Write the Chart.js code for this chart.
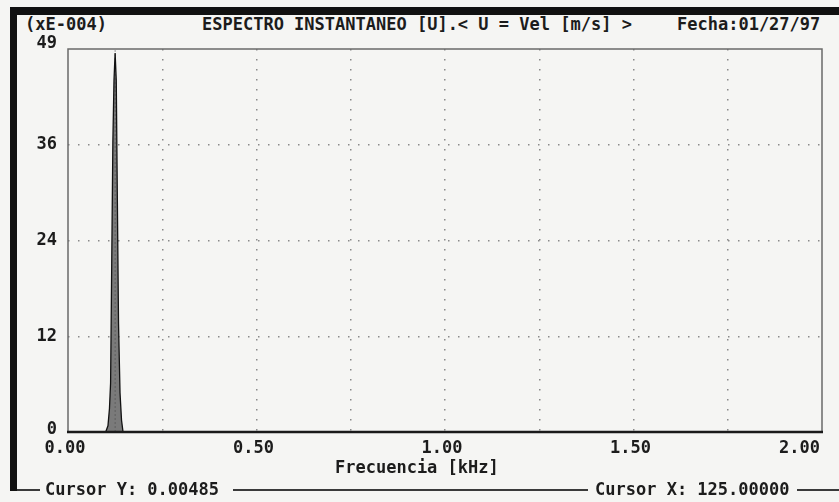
<!DOCTYPE html>
<html>
<head>
<meta charset="utf-8">
<script src="https://cdn.jsdelivr.net/npm/chart.js@4/dist/chart.umd.min.js"></script>
<style>
    body { margin: 0; background: #f5f5f3; }
    #wrap { position: relative; width: 839px; height: 502px; overflow: hidden; background: #f5f5f3; }
    #graph { position: absolute; left: 0; top: 0; }
    .band { position: absolute; background: #111; }
    .txt { position: absolute; font: bold 17px "DejaVu Sans Mono", monospace; line-height: 17px; color: #1c1c1c; white-space: pre; }
    .rule { position: absolute; height: 2px; background: #3a3a3a; }
</style>
</head>
<body>
<div id="wrap">
    <div class="band" style="left:10px; top:7px; width:829px; height:8px;"></div>
    <div class="band" style="left:10px; top:7px; width:7px; height:484px;"></div>

    <div class="txt" style="left:25px; top:16px;">(xE-004)</div>
    <div class="txt" style="left:202px; top:16px;">ESPECTRO INSTANTANEO [U].&lt; U = Vel [m/s] &gt;</div>
    <div class="txt" style="left:677px; top:16px;">Fecha:01/27/97</div>

    <canvas id="graph" width="839" height="502"></canvas>

    <div class="rule" style="left:17px; top:489px; width:23px;"></div>
    <div class="txt" style="left:45px; top:481px;">Cursor Y: 0.00485</div>
    <div class="rule" style="left:233px; top:489px; width:355px;"></div>
    <div class="txt" style="left:595px; top:481px;">Cursor X: 125.00000</div>
    <div class="rule" style="left:797px; top:489px; width:42px;"></div>
</div>

<script>
// ========================== Data (x in kHz, y in xE-004) ==========================
const freqKHz   = [0, 0.100, 0.106, 0.110, 0.113, 0.116, 0.119, 0.122, 0.125, 0.128, 0.131, 0.134, 0.138, 0.142, 0.146, 2.0];
const amplitude = [0, 0,     0.8,   3.0,   6.3,   21.6,  37.0,  45.0,  48.5,  45.0,  29.3,  13.9,  5.0,   1.5,   0,     0];

const cursorFreq = 0.125;

const xTickValues = [0, 0.5, 1.0, 1.5, 2.0];
const xTickLabels = ["0.00", "0.50", "1.00", "1.50", "2.00"];
const yTickValues = [0, 12.25, 24.5, 36.75, 49];
const yTickLabels = ["0", "12", "24", "36", "49"];

const FONT = 'bold 17px "DejaVu Sans Mono", monospace';

// ========================== Frame + axis text plugin ==========================
const dosAxes = {
    id: "dosAxes",
    afterDatasetsDraw(chart) {
        const { ctx, chartArea: a, scales } = chart;
        ctx.save();
        // plot frame
        ctx.strokeStyle = "#6a6a6a";
        ctx.lineWidth = 1.5;
        ctx.beginPath();
        ctx.moveTo(a.left, a.bottom);
        ctx.lineTo(a.left, a.top);
        ctx.lineTo(a.right, a.top);
        ctx.lineTo(a.right, a.bottom);
        ctx.stroke();
        ctx.strokeStyle = "#1a1a1a";
        ctx.lineWidth = 2.5;
        ctx.beginPath();
        ctx.moveTo(a.left - 1, a.bottom);
        ctx.lineTo(a.right + 1, a.bottom);
        ctx.stroke();

        ctx.font = FONT;
        ctx.fillStyle = "#1c1c1c";
        ctx.textBaseline = "middle";

        // y labels
        ctx.textAlign = "right";
        yTickValues.forEach((v, i) => {
            let y = scales.y.getPixelForValue(v);
            if (i === yTickValues.length - 1) y -= 5;
            if (i === 0) y -= 2;
            ctx.fillText(yTickLabels[i], 57, y);
        });

        // x labels
        xTickValues.forEach((v, i) => {
            const x = scales.x.getPixelForValue(v);
            if (i === xTickValues.length - 1) {
                ctx.textAlign = "right";
                ctx.fillText(xTickLabels[i], x - 2, 449);
            } else {
                ctx.textAlign = "center";
                ctx.fillText(xTickLabels[i], x - 3, 449);
            }
        });

        // x title
        ctx.textAlign = "left";
        ctx.fillText("Frecuencia [kHz]", 335, 469);
        ctx.restore();
    }
};

// ========================== Chart ==========================
const ctx = document.getElementById("graph").getContext("2d");

new Chart(ctx, {
    type: "line",
    data: {
        datasets: [
            {
                label: "Espectro",
                data: freqKHz.map((f, i) => ({ x: f, y: amplitude[i] })),
                borderColor: "#111",
                borderWidth: 1.3,
                backgroundColor: "rgba(70,70,70,0.7)",
                fill: "origin",
                pointRadius: 0,
                tension: 0,
                order: 1
            },
            {
                label: "Cursor",
                data: [{ x: cursorFreq, y: 0 }, { x: cursorFreq, y: 49 }],
                borderColor: "#9a9a9a",
                borderWidth: 1,
                borderDash: [2, 2],
                pointRadius: 0,
                fill: false,
                order: 2
            }
        ]
    },
    options: {
        responsive: false,
        animation: false,
        devicePixelRatio: 1,
        layout: { padding: { left: 68, top: 49, right: 17, bottom: 70 } },
        plugins: { legend: { display: false }, tooltip: { enabled: false } },
        scales: {
            x: {
                type: "linear",
                min: 0,
                max: 2,
                afterBuildTicks: (s) => { s.ticks = [0.25, 0.5, 0.75, 1, 1.25, 1.5, 1.75].map(v => ({ value: v })); },
                ticks: { display: false },
                grid: { color: "#8a8a8a", lineWidth: 1.5, drawTicks: false },
                border: { display: false, dash: [1.5, 8.5] },
                afterFit: (s) => { s.height = 0; }
            },
            y: {
                type: "linear",
                min: 0,
                max: 49,
                afterBuildTicks: (s) => { s.ticks = [12.25, 24.5, 36.75].map(v => ({ value: v })); },
                ticks: { display: false },
                grid: { color: "#8a8a8a", lineWidth: 1.5, drawTicks: false },
                border: { display: false, dash: [1.5, 8.5] },
                afterFit: (s) => { s.width = 0; }
            }
        }
    },
    plugins: [dosAxes]
});
</script>
</body>
</html>
